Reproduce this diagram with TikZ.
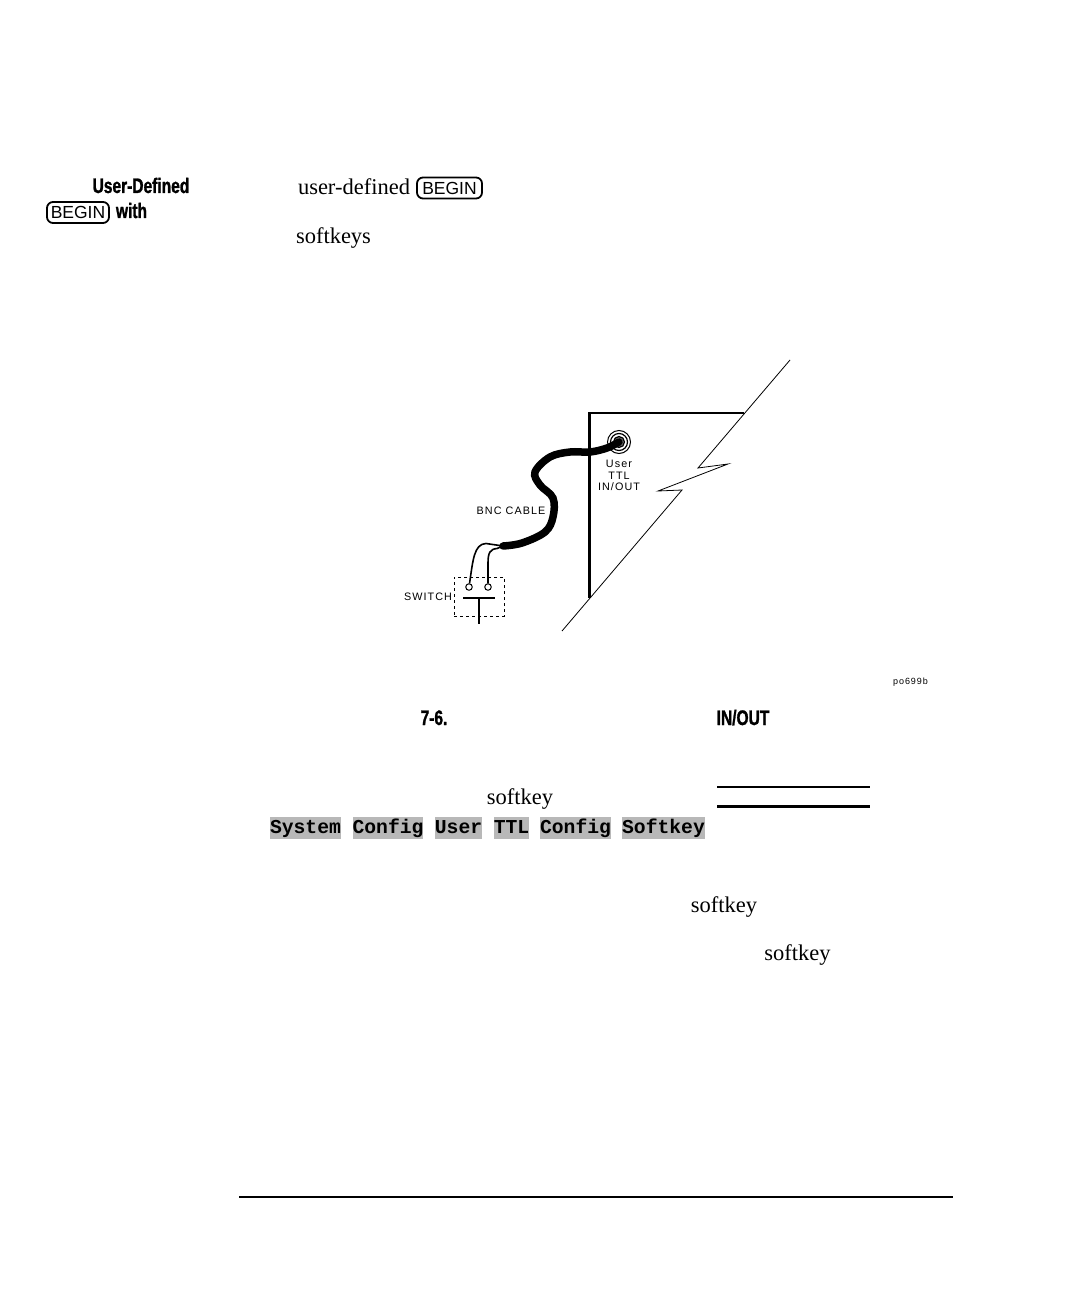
\documentclass[tikz,border=0pt]{standalone}
\usepackage{fontspec}
\setmainfont{Liberation Serif}
\setsansfont{Liberation Sans}
\setmonofont{Liberation Mono}
\newfontfamily\headfont[FakeStretch=0.74,FakeBold=1.2]{Liberation Sans}
\newfontfamily\plotfont[LetterSpace=10]{Liberation Sans}
\usetikzlibrary{positioning}

\tikzset{
  body/.style={anchor=base, inner sep=0pt, font=\fontsize{22.5}{24}\selectfont},
  head/.style={anchor=base, inner sep=0pt, font=\headfont\bfseries\fontsize{21}{23}\selectfont},
  plot/.style={inner sep=0pt, font=\plotfont\fontsize{10.8}{12}\selectfont},
  keycap/.style={draw, line width=1.8pt, rounded corners=6pt, inner sep=0pt, minimum height=21pt,
    font=\sffamily\fontsize{17.5}{19}\selectfont},
  softkey/.style={fill=black!28, inner xsep=0pt, inner ysep=0pt, text height=16pt, text depth=6pt,
    font=\ttfamily\bfseries\fontsize{19.7}{22}\selectfont},
  rule/.style={line width=#1},
  panel/.style={line width=2.2pt},
  brk/.style={line width=0.8pt},
  wire/.style={line width=1.6pt},
}

\begin{document}
\begin{tikzpicture}[x=1pt,y=-1pt]
    \useasboundingbox (0,0) rectangle (1086,1300);

    % margin heading
    \node[head] at (141, 193) (head_1) {User-Defined};
    \node[keycap, minimum width=62pt] at (78, 212.5) (key_1) {BEGIN};
    \node[head] at (131.5, 218) (head_2) {with};

    % body text
    \node[body] at (354, 194) (text_1) {user-defined};
    \node[keycap, minimum width=65pt] at (449.5, 188) (key_2) {BEGIN};
    \node[body] at (333.5, 243) (text_2) {softkeys};

    % panel and break line
    \coordinate (top_right) at (744, 413);
    \coordinate (top_left) at (589.5, 413);
    \coordinate (bottom_left) at (589.5, 598);
    \draw[panel] (top_right) -- (top_left) -- (bottom_left);

    \coordinate (brk_a) at (790, 360);
    \coordinate (brk_b) at (698, 468);
    \coordinate (brk_c) at (728, 464);
    \coordinate (brk_d) at (658, 491);
    \coordinate (brk_e) at (682, 490);
    \coordinate (brk_f) at (562, 631);
    \draw[brk] (brk_a) -- (brk_b) -- (brk_c) -- (brk_d) -- (brk_e) -- (brk_f);

    % jack
    \node[draw, circle, line width=1pt, minimum size=23pt, inner sep=0pt] at (619, 442) (jack) {};
    \node[draw, circle, line width=1.2pt, minimum size=17pt, inner sep=0pt] at (jack.center) (jack_mid) {};
    \node[draw, circle, line width=1.2pt, fill=black!55, minimum size=11pt, inner sep=0pt] at (jack.center) (jack_in) {};

    \node[plot] at (619, 464) (user) {User};
    \node[plot] at (619, 475.5) (ttl) {TTL};
    \node[plot] at (619, 487) (inout) {IN/OUT};
    \node[plot] at (511, 511) (bnc) {BNC CABLE};
    \node[plot] at (428, 597) (switch) {SWITCH};

    % cable
    \coordinate (cable_a) at (607, 448);
    \coordinate (cable_b) at (590, 452);
    \coordinate (cable_c) at (570, 452);
    \coordinate (cable_d) at (550, 457);
    \coordinate (cable_e) at (535, 472);
    \coordinate (cable_f) at (540, 485);
    \coordinate (cable_g) at (553, 498);
    \coordinate (cable_h) at (553, 517);
    \coordinate (cable_i) at (545, 532);
    \coordinate (cable_j) at (522, 543);
    \coordinate (cable_end) at (503, 546);
    \draw[line width=7.5pt, line cap=round] plot[smooth, tension=0.6] coordinates
      {(jack_in.center) (cable_a) (cable_b) (cable_c) (cable_d) (cable_e) (cable_f) (cable_g) (cable_h) (cable_i) (cable_j) (cable_end)};

    % switch
    \node[draw, circle, line width=1pt, minimum size=6.5pt, inner sep=0pt] at (469, 587) (pin_1) {};
    \node[draw, circle, line width=1pt, minimum size=6.5pt, inner sep=0pt] at (488, 587) (pin_2) {};
    \draw[wire] (pin_1) .. controls (473, 560) and (474, 544) .. (486, 543.5) -- (cable_end);
    \draw[wire] (pin_2) -- (488, 563) .. controls (488, 553) and (490, 549) .. (497, 548.5) -- (cable_end);

    \node[draw, dashed, line width=0.9pt, minimum width=50pt, minimum height=39pt, inner sep=0pt] at (479, 596.5) (box) {};
    \coordinate (bar_l) at (463, 598);
    \coordinate (bar_r) at (495, 598);
    \coordinate (stem_a) at (479, 598);
    \coordinate (stem_b) at (479, 624);
    \draw[line width=1.8pt] (bar_l) -- (bar_r);
    \draw[line width=1.6pt] (stem_a) -- (stem_b);

    \node[inner sep=0pt, font=\plotfont\fontsize{9}{10}\selectfont] at (910.5, 682) (plotno) {po699b};

    % caption
    \node[head] at (434, 725) (fig_no) {7-6.};
    \node[head] at (743, 725) (fig_io) {IN/OUT};

    % softkey lines
    \node[body] at (520, 804) (text_3) {softkey};
    \coordinate (line_a) at (717, 787);
    \coordinate (line_b) at (870, 787);
    \coordinate (line_c) at (717, 806);
    \coordinate (line_d) at (870, 806);
    \draw[rule=2pt] (line_a) -- (line_b);
    \draw[rule=3pt] (line_c) -- (line_d);

    \node[softkey] at (305.5, 828) (key_system) {System};
    \node[softkey] at (388, 828) (key_config) {Config};
    \node[softkey] at (458.5, 828) (key_user) {User};
    \node[softkey] at (511.5, 828) (key_ttl) {TTL};
    \node[softkey] at (575.5, 828) (key_cfg) {Config};
    \node[softkey] at (663.5, 828) (key_soft) {Softkey};

    \node[body] at (724, 912) (text_4) {softkey};
    \node[body] at (797.5, 960) (text_5) {softkey};

    % footer rule
    \coordinate (foot_a) at (239, 1197);
    \coordinate (foot_b) at (953, 1197);
    \draw[rule=2pt] (foot_a) -- (foot_b);
\end{tikzpicture}
\end{document}
